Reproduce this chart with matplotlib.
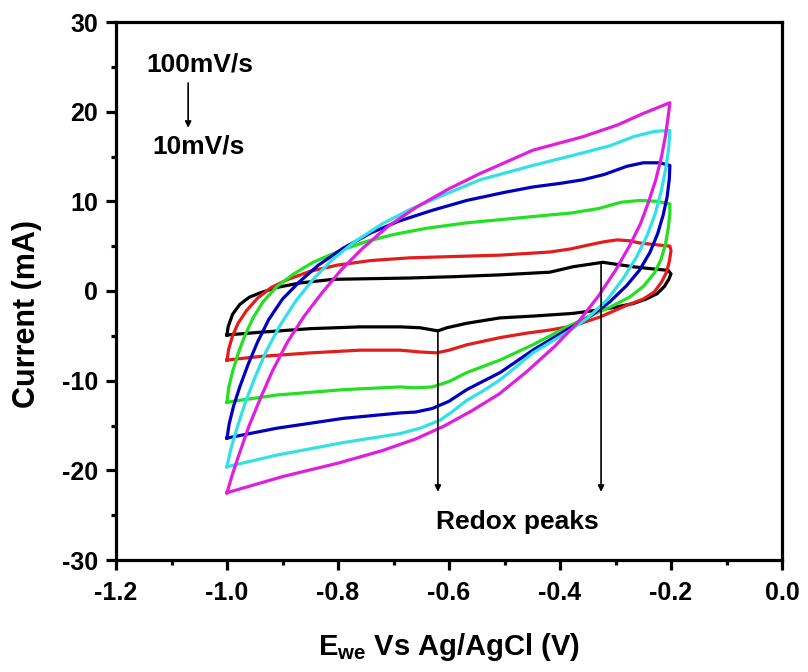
import numpy as np
import matplotlib
matplotlib.use('Agg')
import matplotlib.pyplot as plt

plt.rcParams['font.family'] = ['Liberation Sans', 'DejaVu Sans']
plt.rcParams['font.weight'] = 'bold'
plt.rcParams['axes.unicode_minus'] = False
plt.rcParams['mathtext.fontset'] = 'custom'
plt.rcParams['mathtext.rm'] = 'Liberation Sans:bold'
plt.rcParams['mathtext.bf'] = 'Liberation Sans:bold'

# CV loops: anodic branch (-1.0 -> -0.2) then cathodic back
black_x = [-1.0, -0.998, -0.99, -0.977, -0.96, -0.94, -0.91, -0.868, -0.809, -0.67, -0.59,
           -0.508, -0.418, -0.377, -0.323, -0.268, -0.23, -0.205, -0.2, -0.204, -0.212,
           -0.225, -0.245, -0.268, -0.3, -0.328, -0.377, -0.449, -0.508, -0.568, -0.604,
           -0.62, -0.652, -0.688, -0.76, -0.85, -0.94, -1.0]
black_y = [-4.9, -4.0, -2.6, -1.5, -0.7, -0.2, 0.4, 0.9, 1.3, 1.45, 1.6,
           1.8, 2.1, 2.7, 3.2, 2.7, 2.45, 2.3, 1.9, 1.3, 0.5,
           -0.3, -0.9, -1.4, -1.8, -2.1, -2.5, -2.8, -3.0, -3.6, -4.1,
           -4.45, -4.1, -4.0, -4.0, -4.2, -4.6, -4.9]

red_x = [-1.0, -0.997, -0.99, -0.98, -0.965, -0.945, -0.92, -0.89, -0.85, -0.8, -0.74,
         -0.67, -0.508, -0.418, -0.38, -0.351, -0.32, -0.297, -0.275, -0.256, -0.202,
         -0.2, -0.203, -0.208, -0.217, -0.23, -0.25, -0.28, -0.328, -0.377, -0.418,
         -0.46, -0.508, -0.568, -0.6, -0.622, -0.652, -0.688, -0.76, -0.85, -0.94, -1.0]
red_y = [-7.7, -6.5, -5.0, -3.6, -2.2, -0.8, 0.4, 1.3, 2.2, 2.9, 3.4,
         3.7, 4.0, 4.35, 4.7, 5.1, 5.5, 5.7, 5.6, 5.35, 5.0,
         4.5, 3.3, 2.1, 1.0, -0.1, -0.9, -1.6, -2.9, -3.9, -4.35,
         -4.7, -5.2, -6.0, -6.6, -6.9, -6.8, -6.6, -6.6, -6.9, -7.3, -7.7]

green_x = [-1.0, -0.997, -0.99, -0.98, -0.968, -0.953, -0.935, -0.91, -0.88, -0.845, -0.8,
           -0.75, -0.7, -0.64, -0.568, -0.449, -0.38, -0.33, -0.29, -0.256, -0.225,
           -0.202, -0.202, -0.205, -0.21, -0.218, -0.23, -0.25, -0.275, -0.31, -0.35,
           -0.387, -0.449, -0.508, -0.568, -0.6, -0.63, -0.66, -0.688, -0.79, -0.91, -1.0]
green_y = [-12.4, -10.8, -9.0, -7.0, -5.0, -3.0, -1.2, 0.5, 1.9, 3.2, 4.4,
           5.5, 6.3, 7.0, 7.6, 8.3, 8.7, 9.2, 9.9, 10.1, 10.0,
           9.7, 8.6, 7.0, 5.2, 3.5, 2.0, 0.5, -0.7, -1.8, -2.9,
           -4.0, -6.0, -7.7, -9.1, -10.1, -10.7, -10.8, -10.7, -11.0, -11.6, -12.4]

blue_x = [-1.0, -0.996, -0.988, -0.977, -0.962, -0.945, -0.925, -0.9, -0.87, -0.835, -0.79,
          -0.74, -0.69, -0.63, -0.568, -0.5, -0.449, -0.4, -0.359, -0.32, -0.28,
          -0.25, -0.22, -0.202, -0.203, -0.207, -0.214, -0.224, -0.238, -0.257, -0.28,
          -0.31, -0.345, -0.387, -0.449, -0.508, -0.568, -0.6, -0.63, -0.66, -0.688,
          -0.79, -0.91, -1.0]
blue_y = [-16.4, -14.8, -12.8, -10.7, -8.2, -5.7, -3.2, -0.9, 1.0, 2.9, 4.8,
          6.5, 7.8, 9.0, 10.1, 11.0, 11.6, 12.0, 12.4, 13.0, 13.9,
          14.3, 14.3, 14.0, 12.5, 10.5, 8.5, 6.4, 4.3, 2.3, 0.6,
          -1.2, -2.8, -4.3, -6.6, -9.1, -11.0, -12.3, -13.1, -13.5, -13.6,
          -14.2, -15.3, -16.4]

cyan_x = [-1.0, -0.993, -0.982, -0.968, -0.95, -0.93, -0.905, -0.877, -0.845, -0.81, -0.77,
          -0.72, -0.67, -0.61, -0.544, -0.449, -0.359, -0.31, -0.268, -0.23, -0.202,
          -0.204, -0.209, -0.217, -0.228, -0.243, -0.262, -0.285, -0.315, -0.35, -0.387,
          -0.449, -0.48, -0.508, -0.54, -0.568, -0.595, -0.616, -0.652, -0.688, -0.79,
          -0.91, -1.0]
cyan_y = [-19.6, -17.6, -15.3, -12.6, -9.7, -6.8, -3.9, -1.2, 1.3, 3.5, 5.5,
          7.5, 9.1, 10.7, 12.4, 14.0, 15.4, 16.2, 17.2, 17.8, 17.9,
          16.0, 13.8, 11.3, 8.7, 6.2, 3.8, 1.5, -1.0, -3.0, -4.6,
          -6.9, -8.5, -9.9, -11.2, -12.2, -13.5, -14.4, -15.3, -15.9, -16.9,
          -18.3, -19.6]

magenta_x = [-1.0, -0.99, -0.977, -0.96, -0.94, -0.918, -0.892, -0.862, -0.83, -0.795, -0.755,
             -0.71, -0.66, -0.6, -0.544, -0.449, -0.359, -0.297, -0.25, -0.202,
             -0.205, -0.21, -0.217, -0.227, -0.24, -0.255, -0.275, -0.3, -0.33, -0.365,
             -0.41, -0.46, -0.51, -0.56, -0.61, -0.66, -0.72, -0.8, -0.9, -1.0]
magenta_y = [-22.5, -20.4, -18.0, -15.0, -12.0, -8.9, -5.8, -2.9, -0.3, 2.3, 4.8,
             7.2, 9.3, 11.4, 13.1, 15.7, 17.2, 18.5, 19.8, 21.0,
             19.5, 17.3, 15.0, 12.5, 10.0, 7.5, 5.0, 2.3, -0.5, -3.3,
             -6.2, -9.0, -11.5, -13.4, -15.1, -16.5, -17.8, -19.2, -20.7, -22.5]

curves = [(black_x, black_y, '#000000'),
          (red_x, red_y, '#e31c1c'),
          (green_x, green_y, '#22e022'),
          (blue_x, blue_y, '#0000c0'),
          (cyan_x, cyan_y, '#33e0e6'),
          (magenta_x, magenta_y, '#e01ee0')]

x_major = [-1.2, -1.0, -0.8, -0.6, -0.4, -0.2, 0.0]
x_minor = [-1.1, -0.9, -0.7, -0.5, -0.3, -0.1]
y_major = [-30, -20, -10, 0, 10, 20, 30]
y_minor = [-25, -15, -5, 5, 15, 25]

fig = plt.figure(figsize=(8.08, 6.72), dpi=100)
ax = fig.add_axes([116/808, 1-560/672, 666/808, 538/672])

for x, y, c in curves:
    ax.plot(x, y, color=c, lw=2.3, solid_joinstyle='round')

ax.set_xlim(-1.2, 0.0)
ax.set_ylim(-30, 30)
ax.set_xticks(x_major)
ax.set_xticks(x_minor, minor=True)
ax.set_yticks(y_major)
ax.set_yticks(y_minor, minor=True)
ax.set_xticklabels(['%.1f' % v for v in x_major])

for s in ax.spines.values():
    s.set_linewidth(2.3)
ax.tick_params(which='major', direction='out', length=7, width=2.3, labelsize=18, pad=6)
ax.tick_params(which='minor', direction='out', length=3.5, width=2.3)
ax.tick_params(axis='x', which='major', pad=8)
for lab in ax.get_xticklabels() + ax.get_yticklabels():
    lab.set_fontweight('bold')

fig.text(27/808, 1-314/672, 'Current (mA)', rotation=90, ha='center', va='center',
         fontsize=22, fontweight='bold')
fig.text(449/808, 1-647/672, r'E$_{\mathregular{we}}$ Vs Ag/AgCl (V)', ha='center',
         va='center', fontsize=21, fontweight='bold')

ax.text(-1.146, 25.25, '100mV/s', fontsize=19, fontweight='bold', ha='left', va='center')
ax.text(-1.135, 16.1, '10mV/s', fontsize=19, fontweight='bold', ha='left', va='center')
ax.annotate('', xy=(-1.070, 18.2), xytext=(-1.070, 23.2),
            arrowprops=dict(arrowstyle='-|>', color='k', lw=1.2, mutation_scale=9,
                            shrinkA=0, shrinkB=0))

ax.text(-0.6234, -25.75, 'Redox peaks', fontsize=19, fontweight='bold', ha='left', va='center')
ax.annotate('', xy=(-0.620, -22.4), xytext=(-0.620, -4.45),
            arrowprops=dict(arrowstyle='-|>', color='k', lw=1.2, mutation_scale=9,
                            shrinkA=0, shrinkB=0))
ax.annotate('', xy=(-0.326, -22.4), xytext=(-0.326, 3.2),
            arrowprops=dict(arrowstyle='-|>', color='k', lw=1.2, mutation_scale=9,
                            shrinkA=0, shrinkB=0))

fig.savefig('out.png', dpi=100)
